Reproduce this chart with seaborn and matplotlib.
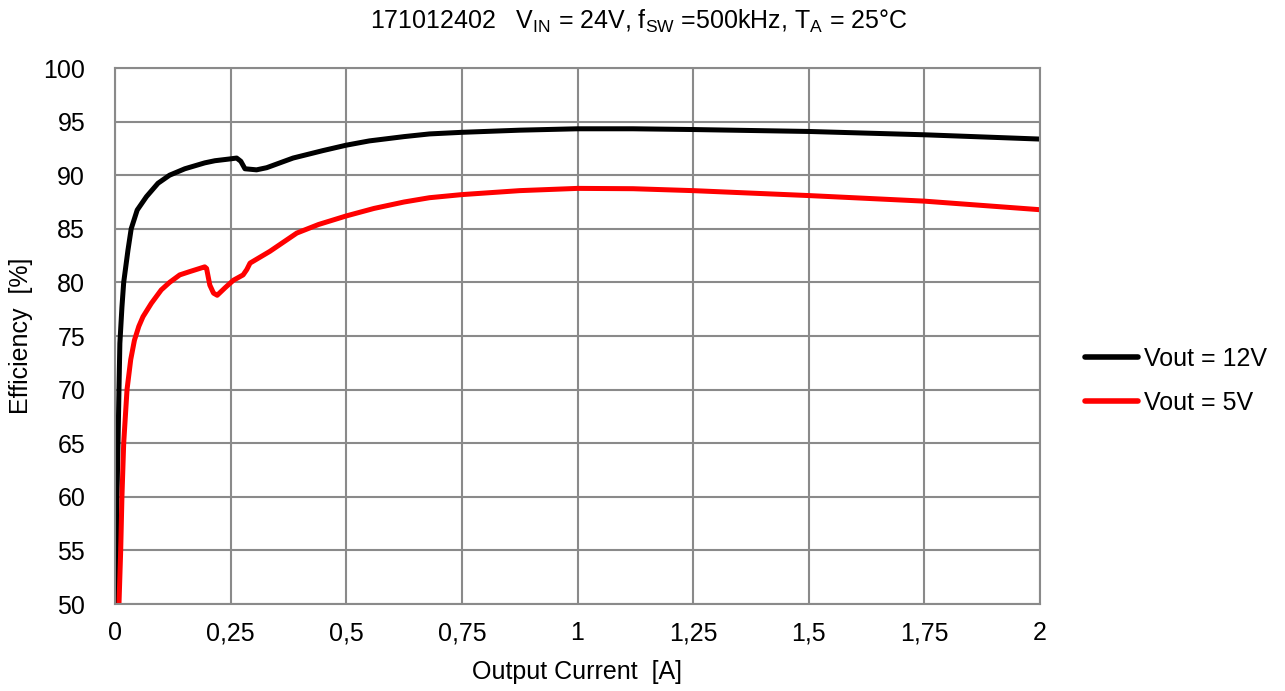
import pandas as pd
import numpy as np
import matplotlib
matplotlib.use('Agg')
import matplotlib.pyplot as plt
from matplotlib.ticker import FuncFormatter
import seaborn as sns

# ── Data ─────────────────────────────────────────────────────────────────
i_12v = [0.0015, 0.003, 0.0043, 0.0065, 0.0086, 0.0105, 0.015, 0.0188,
         0.028, 0.035, 0.048, 0.068, 0.093, 0.118, 0.151, 0.194, 0.216,
         0.245, 0.263, 0.272, 0.281, 0.306, 0.328, 0.385, 0.45, 0.5,
         0.55, 0.625, 0.68, 0.75, 0.875, 1.0, 1.12, 1.25, 1.5, 1.75, 2.0]
eff_12v = [50, 55, 60, 65, 70, 74.3, 77.7, 80,
           83, 85, 86.75, 88, 89.25, 90, 90.6, 91.15, 91.35,
           91.5, 91.6, 91.3, 90.6, 90.5, 90.7, 91.6, 92.3, 92.8,
           93.2, 93.6, 93.85, 94.0, 94.2, 94.33, 94.33, 94.26, 94.08, 93.77, 93.37]

i_5v = [0.0086, 0.0123, 0.015, 0.0188, 0.026, 0.034, 0.042, 0.0515, 0.0605,
        0.0786, 0.100, 0.118, 0.140, 0.161, 0.194, 0.198, 0.205, 0.213,
        0.221, 0.238, 0.256, 0.277, 0.285, 0.292, 0.335, 0.393, 0.44,
        0.5, 0.56, 0.625, 0.68, 0.75, 0.875, 1.0, 1.12, 1.25, 1.5, 1.75, 2.0]
eff_5v = [50, 55, 60, 65, 70, 72.8, 74.6, 75.9, 76.8,
          78.05, 79.3, 80, 80.7, 81.0, 81.45, 81.3, 79.75, 79.0,
          78.8, 79.5, 80.2, 80.7, 81.2, 81.8, 82.9, 84.6, 85.4,
          86.2, 86.9, 87.5, 87.9, 88.19, 88.56, 88.77, 88.74, 88.56, 88.1, 87.58, 86.78]

labels = ['Vout = 12V', 'Vout = 5V']
colors = ['#000000', '#FF0000']
x_ticks = [0, 0.25, 0.5, 0.75, 1, 1.25, 1.5, 1.75, 2]
y_ticks = list(range(50, 101, 5))

df = pd.concat([
    pd.DataFrame({'current': i_12v, 'eff': eff_12v, 'series': labels[0]}),
    pd.DataFrame({'current': i_5v, 'eff': eff_5v, 'series': labels[1]}),
])

# ── Style ────────────────────────────────────────────────────────────────
sns.set_style('white')
plt.rcParams['font.family'] = ['Liberation Sans', 'DejaVu Sans']
plt.rcParams['mathtext.fontset'] = 'custom'
plt.rcParams['mathtext.rm'] = 'Liberation Sans'
plt.rcParams['text.color'] = 'black'
plt.rcParams['axes.labelcolor'] = 'black'
grid_c = '#8a8a8a'
fs = 18

fig = plt.figure(figsize=(12.85, 6.91), dpi=100)
ax = fig.add_axes([115/1285, 1-604/691, 925/1285, 536/691])

sns.lineplot(data=df, x='current', y='eff', hue='series', palette=colors,
             linewidth=3.6, estimator=None, ax=ax, legend=True,
             solid_joinstyle='round', solid_capstyle='round')

ax.set_xlim(0, 2)
ax.set_ylim(50, 100)
ax.set_xticks(x_ticks)
ax.set_yticks(y_ticks)
ax.xaxis.set_major_formatter(FuncFormatter(lambda v, p: f'{v:g}'.replace('.', ',')))
ax.grid(True, color=grid_c, linewidth=1.5)
ax.set_axisbelow(True)
for s in ax.spines.values():
    s.set_color(grid_c)
    s.set_linewidth(1.5)
ax.tick_params(axis='both', direction='out', width=1.5,
               color=grid_c, labelsize=fs, labelcolor='black')
ax.tick_params(axis='x', length=5.5, pad=7)
ax.tick_params(axis='y', length=6, pad=15.5)

ax.set_xlabel('Output Current  [A]', fontsize=fs, color='black')
ax.set_ylabel('Efficiency  [%]', fontsize=fs, color='black')
ax.xaxis.set_label_coords(0.5, -0.104)
ax.yaxis.set_label_coords(-0.0886, 0.5)

fig.text(0.497, 1-21/691,
         r'171012402   V$_{\mathregular{IN}}$ = 24V, f$_{\mathregular{SW}}$ =500kHz, '
         r'T$_{\mathregular{A}}$ = 25°C',
         ha='center', va='center', fontsize=fs, color='black')

handles, lbls = ax.get_legend_handles_labels()
for h in handles:
    h.set_linewidth(4)
    h.set_solid_capstyle('round')
leg = ax.legend(handles, lbls, loc='center left', bbox_to_anchor=(1085/1285, 1-381/691),
                bbox_transform=fig.transFigure, frameon=False, fontsize=fs,
                handlelength=2.12, handletextpad=0.24, labelspacing=0.8,
                borderpad=0, borderaxespad=0)
for t in leg.get_texts():
    t.set_color('black')

fig.savefig('out.png', dpi=100)
